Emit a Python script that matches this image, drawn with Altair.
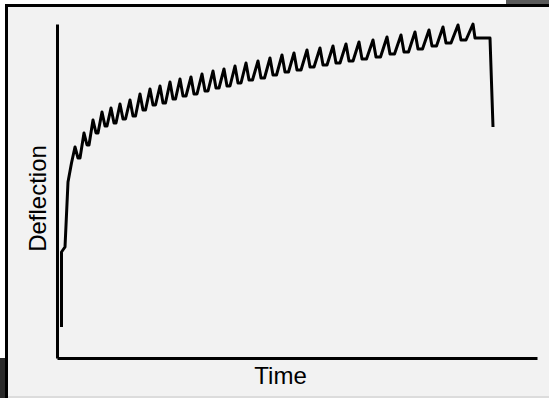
import altair as alt
import pandas as pd

# Time / deflection (arbitrary units)
time = [4.5, 4.5, 8, 11, 14.5,
        18, 21, 23, 27, 30, 32, 36, 39, 41, 45, 48, 50, 54, 57, 59,
        63, 66, 68.5, 73, 76, 78.5, 83, 86, 88.5, 93, 96, 98.5,
        103, 106, 108.5, 113, 116, 118.5, 123, 126, 129,
        134, 137, 140, 145, 148, 151, 156, 159, 162,
        167, 170, 173, 178, 181, 184, 189, 192, 195.5,
        201, 204, 207.5, 213, 216, 219.5, 225, 228, 231.5,
        237, 240, 244, 250, 253, 257, 263, 266, 270,
        276, 279, 283, 289, 292, 296, 302, 305, 309.5,
        316, 319, 323.5, 330, 333, 337.5, 344, 347, 351.5,
        358, 361, 365.5, 372, 375, 379.5, 386, 389, 394,
        401, 404, 409, 416, 418, 433, 436]
deflection = [31, 106, 111, 176, 195,
              211, 200, 200, 225, 213, 213, 238, 225, 225, 246, 232, 232,
              250, 235, 235, 254, 239, 239, 258, 242, 242, 264, 248, 248,
              269, 253, 253, 272, 255, 255, 276, 259, 259, 279, 262, 262,
              281, 264, 264, 284, 267, 267, 287, 270, 270,
              289, 272, 272, 292, 275, 275, 295, 278, 278,
              297, 280, 280, 300, 283, 283, 303, 286, 286,
              305, 288, 288, 308, 291, 291, 310, 293, 293,
              312, 295, 295, 314, 297, 297, 316, 299, 299,
              318, 301, 301, 321, 304, 304, 323, 306, 306,
              326, 309, 309, 328, 312, 312, 331, 315, 315,
              333, 318, 318, 334, 320, 320, 231]

df = pd.DataFrame({"Time": time, "Deflection": deflection, "idx": list(range(len(time)))})
one = pd.DataFrame({"a": [0]})

xscale = alt.Scale(domain=[0, 480], nice=False, zero=False)
yscale = alt.Scale(domain=[0, 334], nice=False, zero=False)

font = "Liberation Sans"

panel = alt.Chart(one).mark_rect(fill="#f2f2f2", stroke="black", strokeWidth=3).encode(
    x=alt.value(-50.5), x2=alt.value(494), y=alt.value(-18.5), y2=alt.value(376)
)
corner_tr = alt.Chart(one).mark_rect(fill="#5a5a5a").encode(
    x=alt.value(449), x2=alt.value(492), y=alt.value(-24), y2=alt.value(-20)
)
corner_bl = alt.Chart(one).mark_rect(fill="#2a2a2a").encode(
    x=alt.value(-57), x2=alt.value(-52), y=alt.value(334), y2=alt.value(374)
)
bottom_line = alt.Chart(one).mark_rule(color="#d4d4d4", strokeWidth=1.5).encode(
    x=alt.value(-49), x2=alt.value(492), y=alt.value(373)
)

line = alt.Chart(df).mark_line(color="black", strokeWidth=3, strokeJoin="round", clip=False).encode(
    x=alt.X("Time:Q", scale=xscale,
            axis=alt.Axis(title="Time", domain=True, domainColor="black", domainWidth=3,
                          ticks=False, labels=False, grid=False, zindex=1,
                          titleFont=font, titleFontSize=24, titleFontWeight="normal",
                          titleColor="black", titleX=223, titleY=25,
                          titleBaseline="alphabetic", titleAlign="center")),
    y=alt.Y("Deflection:Q", scale=yscale,
            axis=alt.Axis(title="Deflection", domain=True, domainColor="black", domainWidth=3,
                          ticks=False, labels=False, grid=False, zindex=1,
                          titleFont=font, titleFontSize=24, titleFontWeight="normal",
                          titleColor="black", titleX=-11.5, titleY=174, titleAngle=-90,
                          titleBaseline="alphabetic", titleAlign="center")),
    order="idx:Q",
)

chart = alt.layer(panel, corner_tr, corner_bl, bottom_line, line).properties(
    width=480, height=334,
    padding={"left": 57, "top": 24, "right": 12, "bottom": 40},
    autosize=alt.AutoSizeParams(type="none"),
    background="white",
).configure_view(stroke=None)

chart.save("out.html", embed_options={"renderer": "svg", "actions": False})
